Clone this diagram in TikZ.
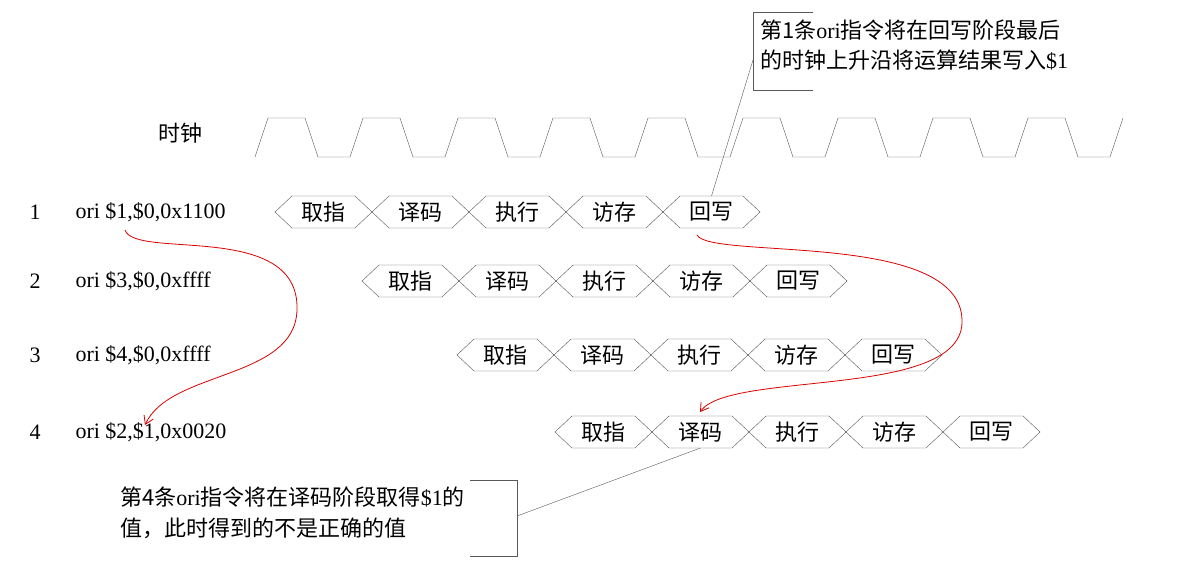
\documentclass[tikz,border=0pt]{standalone}
\usepackage{fontspec}
\setmainfont{Liberation Serif}
\newfontfamily\cjk{Noto Sans CJK SC}
\usetikzlibrary{arrows.meta}

\tikzset{
    stage/.style = {draw = gray!70!black, thin},
    lead/.style = {draw = gray!70!black, thin},
    redarrow/.style = {draw = red!85!black, thick, -{Straight Barb[length=8pt,width=10pt]}}
}

\begin{document}
\begin{tikzpicture}[x = 1pt, y = -1pt, font = \fontsize{22}{26}\selectfont]
    \useasboundingbox[fill = white] (0,0) rectangle (1189,572);

    % clock
    \node (clk) at (180,133) {\cjk 时钟};
    \draw[stage] (255,157)
        \foreach \k in {0,...,8} {
            -- ++(13,-39) -- ++(37,0) -- ++(13,39) -- ++(32,0)
        } -- ++(13,-39);

    % instructions
    \foreach \i/\y/\txt in {1/212/{ori \$1,\$0,0x1100}, 2/281/{ori \$3,\$0,0xffff},
                            3/355/{ori \$4,\$0,0xffff}, 4/432/{ori \$2,\$1,0x0020}} {
        \node (n\i) at (35,\y) {\i};
        \node[anchor = west] (ins\i) at (72,\y) {\txt};
    }

    % pipeline stages
    \foreach \r/\y/\x in {1/212/275, 2/281/362, 3/355/457, 4/432/555} {
        \foreach \s/\lbl in {0/取指, 1/译码, 2/执行, 3/访存, 4/回写} {
            \draw[stage] (\x+97*\s,\y) -- ++(17,-16) -- ++(63,0) -- ++(17,16)
                -- ++(-17,16) -- ++(-63,0) -- cycle;
            \node (s\r\s) at (\x+97*\s+48.5,\y) {\cjk \lbl};
        }
    }

    % upper note
    \node[anchor = north west, align = left, inner sep = 0pt] (note1) at (760,20)
        {\cjk 第1条{\rmfamily ori}指令将在回写阶段最后\\[4pt]\cjk 的时钟上升沿将运算结果写入{\rmfamily\$1}};
    \draw[lead] (813,12) -- (753,12) -- (753,90) -- (813,90);
    \coordinate (tip1) at (753,60);
    \draw[lead] (tip1) -- ([yshift=16pt]s14.center);

    % lower note
    \node[anchor = north west, align = left, inner sep = 0pt] (note2) at (120,487)
        {\cjk 第4条{\rmfamily ori}指令将在译码阶段取得{\rmfamily\$1}的\\[5pt]\cjk 值，此时得到的不是正确的值};
    \draw[lead] (470,480) -- (517,480) -- (517,556) -- (470,556);
    \coordinate (tip2) at (517,516);
    \draw[lead] (tip2) -- ([yshift=-16pt]s41.center);

    % red arrows
    \coordinate (r1) at (125,230);
    \coordinate (r2) at (145,425);
    \draw[redarrow] (r1) .. controls (135,260) and (300,220) .. (297,310)
        .. controls (295,380) and (170,370) .. (r2);
    \coordinate (r3) at (697,235);
    \coordinate (r4) at (700,412);
    \draw[redarrow] (r3) .. controls (710,260) and (960,230) .. (962,320)
        .. controls (965,400) and (730,370) .. (r4);
\end{tikzpicture}
\end{document}
